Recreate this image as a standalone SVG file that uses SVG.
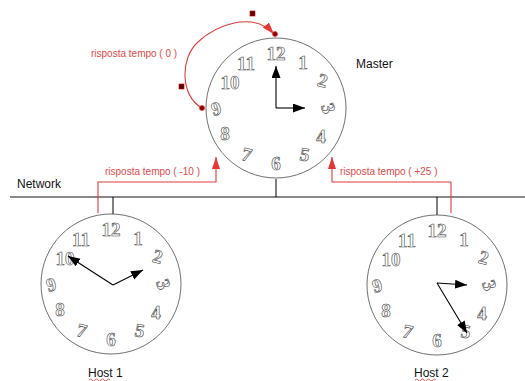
<svg xmlns="http://www.w3.org/2000/svg" xmlns:xlink="http://www.w3.org/1999/xlink" width="525" height="381" viewBox="0 0 525 381">
  <style>
    .rim { fill: #fff; stroke: #333; stroke-width: 0.7; }
    .num { font-family: "Liberation Serif", serif; font-size: 19px; font-weight: bold; fill: #fff; stroke: #444; stroke-width: 0.6; text-anchor: middle; }
    .hand { stroke: #000; stroke-width: 1.1; fill: none; marker-end: url(#blackHead); }
    .wire { stroke: #888; stroke-width: 2; fill: none; }
    .stub { stroke: #000; stroke-width: 1; fill: none; }
    .msg { stroke: #e03a3a; stroke-width: 1.1; fill: none; marker-end: url(#redHead); }
    .lbl { font-family: "Liberation Sans", sans-serif; font-size: 12px; fill: #111; }
    .red { font-family: "Liberation Sans", sans-serif; font-size: 10px; fill: #e04848; }
    .squiggle { stroke: #d33; stroke-width: 0.8; fill: none; }
  </style>
  <defs>
    <marker id="blackHead" markerUnits="userSpaceOnUse" markerWidth="14" markerHeight="10" refX="12" refY="4.5" orient="auto">
      <path d="M0,0 L12,4.5 L0,9 Z" fill="#000"/>
    </marker>
    <marker id="redHead" markerUnits="userSpaceOnUse" markerWidth="14" markerHeight="10" refX="12" refY="4" orient="auto">
      <path d="M0,0 L12,4 L0,8 Z" fill="#e83434"/>
    </marker>
    <!-- clock dial centred on 0,0 -->
    <g id="dial">
      <circle class="rim" r="70"/>
      <text class="num" x="0" y="-48">12</text>
      <text class="num" x="27" y="-39">1</text>
      <text class="num" x="47" y="-21" transform="rotate(15 47 -28)">2</text>
      <text class="num" x="53" y="7" transform="rotate(70 53 0)">3</text>
      <text class="num" x="45" y="35">4</text>
      <text class="num" x="29" y="53" transform="rotate(10 29 46)">5</text>
      <text class="num" x="0" y="62">6</text>
      <text class="num" x="-29" y="53" transform="rotate(15 -29 46)">7</text>
      <text class="num" x="-51" y="32">8</text>
      <text class="num" x="-60" y="7" transform="rotate(-15 -60 0)">9</text>
      <text class="num" x="-46" y="-19">10</text>
      <text class="num" x="-30" y="-38">11</text>
    </g>
  </defs>

  <rect width="525" height="381" fill="#fff"/>

  <!-- network bus and drops -->
  <g id="connectors">
    <line class="wire" x1="10" y1="197" x2="525" y2="197"/>
    <line class="stub" x1="276" y1="179" x2="276" y2="197"/>
    <line class="stub" x1="113" y1="197" x2="113" y2="214"/>
    <line class="stub" x1="437" y1="197" x2="437" y2="215"/>
    <!-- replies toward the master -->
    <path class="msg" d="M98,213 V182 H216 V157"/>
    <path class="msg" d="M451,213 V182 H332 V157"/>
    <!-- master self reply -->
    <path class="msg" d="M202,108 C180,96 180,58 198,42 C215,26 252,10 274,34"/>
    <circle cx="202" cy="108" r="2.5" fill="#8b0000" stroke="#e03a3a" stroke-width="0.8"/>
    <circle cx="275" cy="34" r="2.5" fill="#8b0000" stroke="#e03a3a" stroke-width="0.8"/>
    <rect x="179" y="84" width="5" height="5" fill="#5a0000" stroke="#c00" stroke-width="0.6"/>
    <rect x="250" y="11" width="5" height="5" fill="#5a0000" stroke="#c00" stroke-width="0.6"/>
  </g>

  <g id="master">
    <use xlink:href="#dial" transform="translate(276 108)"/>
    <line class="hand" x1="276" y1="108" x2="276" y2="66"/>
    <line class="hand" x1="276" y1="108" x2="305" y2="108"/>
    <text class="lbl" x="356" y="68">Master</text>
  </g>

  <g id="host1">
    <use xlink:href="#dial" transform="translate(111 284)"/>
    <line class="hand" x1="113" y1="285" x2="143" y2="270"/>
    <line class="hand" x1="113" y1="285" x2="68" y2="256"/>
    <text class="lbl" x="88" y="377">Host 1</text>
    <path class="squiggle" d="M89,380 q1.5,-2 3,0 t3,0 t3,0 t3,0 t3,0 t3,0 t3,0"/>
  </g>

  <g id="host2">
    <use xlink:href="#dial" transform="translate(437 285)"/>
    <line class="hand" x1="437" y1="283" x2="467" y2="285"/>
    <line class="hand" x1="437" y1="283" x2="467" y2="333"/>
    <text class="lbl" x="414" y="377">Host 2</text>
    <path class="squiggle" d="M415,380 q1.5,-2 3,0 t3,0 t3,0 t3,0 t3,0 t3,0 t3,0"/>
  </g>

  <g id="labels">
    <text class="lbl" x="17" y="188">Network</text>
    <text class="red" x="91" y="57">risposta tempo ( 0 )</text>
    <text class="red" x="105" y="175">risposta tempo ( -10 )</text>
    <text class="red" x="340" y="175">risposta tempo ( +25 )</text>
  </g>
</svg>
